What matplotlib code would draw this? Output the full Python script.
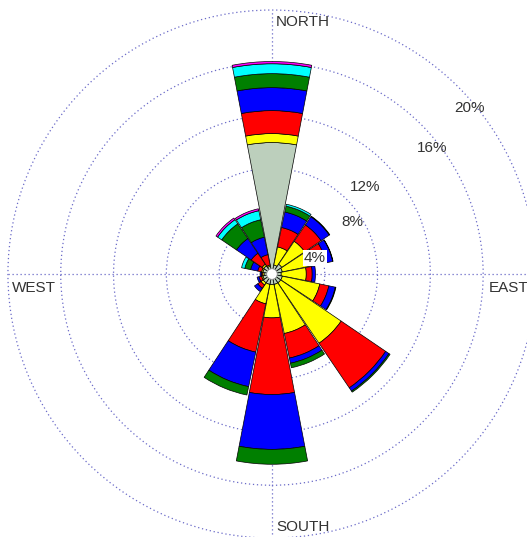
import numpy as np
import matplotlib.pyplot as plt
from matplotlib.patches import Wedge, Circle

# wind directions (compass, clockwise from north)
dirs = ['N', 'NNE', 'NE', 'ENE', 'E', 'ESE', 'SE', 'SSE',
        'S', 'SSW', 'SW', 'WSW', 'W', 'WNW', 'NW', 'NNW']
angles = np.arange(16) * 22.5

# frequency (%) of each speed class per direction
cls1 = [9.96, 0.70, 0.90, 0.80, 0.70, 0.80, 0.80, 0.80, 0.80, 0.80, 0.80, 0.70, 0.60, 0.70, 0.75, 0.60]
cls2 = [0.68, 1.40, 2.10, 2.60, 1.90, 2.90, 5.54, 3.80, 2.52, 1.50, 0.20, 0.10, 0.10, 0.10, 0.15, 0.10]
cls3 = [1.74, 1.50, 1.50, 0.80, 0.45, 0.70, 4.08, 1.90, 5.81, 3.74, 0.30, 0.20, 0.10, 0.30, 1.00, 0.80]
cls4 = [1.74, 1.20, 0.75, 0.50, 0.25, 0.50, 0.30, 0.40, 4.15, 2.67, 0.30, 0.15, 0.10, 0.55, 1.35, 1.35]
cls5 = [1.06, 0.45, 0.05, 0.03, 0.00, 0.05, 0.10, 0.35, 1.13, 0.65, 0.00, 0.00, 0.00, 0.45, 1.35, 1.35]
cls6 = [0.75, 0.15, 0.00, 0.00, 0.00, 0.00, 0.00, 0.00, 0.00, 0.00, 0.00, 0.00, 0.00, 0.25, 0.38, 0.70]
cls7 = [0.17, 0.00, 0.00, 0.00, 0.00, 0.00, 0.00, 0.00, 0.00, 0.00, 0.00, 0.00, 0.00, 0.00, 0.15, 0.15]
classes = [cls1, cls2, cls3, cls4, cls5, cls6, cls7]
colors = ['#bccfbc', '#ffff00', '#ff0000', '#0000ff', '#007f00', '#00ffff', '#ff00ff']

rings = [4, 8, 12, 16, 20]
ring_labels = ['4%', '8%', '12%', '16%', '20%']
ring_pos = [(3.26, 1.21), (6.06, 3.94), (7.05, 6.59), (12.12, 9.55), (15.0, 12.58)]

fig = plt.figure(figsize=(5.27, 5.37), dpi=100)
ax = fig.add_axes([0, 0, 1, 1])
ax.set_xlim(-20.6, 19.32)
ax.set_ylim(-19.92, 20.76)
ax.set_aspect('equal')
ax.axis('off')

gridc = '#6a6ac8'
for r in rings:
    ax.add_patch(Circle((0, 0), r, fill=False, ec=gridc, lw=0.9,
                        ls=(0, (1, 2.2)), zorder=1))
ax.plot([-20, 20], [0, 0], color=gridc, lw=0.9, ls=(0, (1, 2.2)), zorder=1)
ax.plot([0, 0], [-20, 20], color=gridc, lw=0.9, ls=(0, (1, 2.2)), zorder=1)

width = 21.6
for i, a in enumerate(angles):
    base = 0.0
    t = 90 - a
    for vals, c in zip(classes, colors):
        v = vals[i]
        if v <= 0:
            continue
        ax.add_patch(Wedge((0, 0), base + v, t - width / 2, t + width / 2,
                           width=v, fc=c, ec='k', lw=0.5, zorder=2))
        base += v

ax.add_patch(Circle((0, 0), 0.4, fc='white', ec='#999999', lw=0.6, zorder=3))

tc = '#333333'
fnt = 'Liberation Sans'
fs = 11
for lab, (x, y) in zip(ring_labels, ring_pos):
    kw = {}
    if lab == '4%':
        kw['bbox'] = dict(fc='white', ec='none', pad=0.5)
    ax.text(x, y, lab, ha='center', va='center', fontsize=fs, color=tc,
            family=fnt, zorder=4, **kw)

ax.text(0.3, 19.1, 'NORTH', ha='left', va='center', fontsize=fs, color=tc, family=fnt)
ax.text(-19.7, -1.06, 'WEST', ha='left', va='center', fontsize=fs, color=tc, family=fnt)
ax.text(16.4, -1.06, 'EAST', ha='left', va='center', fontsize=fs, color=tc, family=fnt)
ax.text(0.3, -19.17, 'SOUTH', ha='left', va='center', fontsize=fs, color=tc, family=fnt)

fig.savefig('out.png', dpi=100)
